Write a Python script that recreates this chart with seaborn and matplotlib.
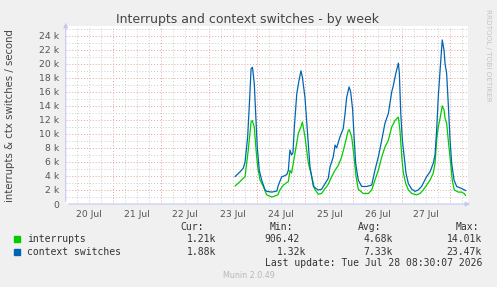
import matplotlib
matplotlib.use("Agg")
import matplotlib.pyplot as plt
from matplotlib.patches import Rectangle
from matplotlib.ticker import MultipleLocator, FuncFormatter, NullFormatter
import seaborn as sns

# Jours affichés sous l'axe X (étiquettes à midi)
days = ["20 Jul", "21 Jul", "22 Jul", "23 Jul", "24 Jul", "25 Jul", "26 Jul", "27 Jul"]

# Heures depuis le 20 Jul 00:00, valeurs en milliers par seconde
t_int = [84.9, 87.4, 89.9, 91.5, 92.9, 93.5, 94.5, 95.4, 96.2, 97.4, 99.0, 100.7,
         103.3, 106.3, 107.3, 109.0, 111.5, 112.3, 113.1, 114.8, 116.5, 117.8,
         118.5, 119.8, 121.5, 123.2, 124.5, 126.4, 128.1, 129.8, 131.4, 133.1,
         134.8, 136.4, 138.1, 139.8, 141.4, 141.9, 143.1, 144.3, 145.3, 146.4,
         148.9, 151.4, 153.1, 154.7, 156.4, 158.1, 159.7, 161.4, 163.1, 164.7,
         166.4, 167.2, 168.1, 168.9, 170.1, 171.4, 173.1, 175.5, 177.2, 178.8,
         180.5, 182.2, 183.8, 184.7, 185.5, 186.3, 187.2, 188.3, 189.2, 189.7,
         190.5, 191.3, 192.5, 193.3, 194.3, 196.3, 198.0, 199.2, 200.0]
interrupts = [2.56, 3.2, 3.9, 7.7, 11.7, 11.9, 11.0, 7.7, 5.3, 3.4, 2.5, 1.3,
              1.0, 1.3, 2.0, 2.7, 3.2, 4.8, 4.4, 7.2, 10.1, 11.0,
              11.7, 9.6, 5.8, 3.9, 2.2, 1.4, 1.5, 2.2, 2.8, 3.9,
              4.8, 5.5, 6.7, 8.6, 10.5, 10.6, 9.6, 6.7, 3.9, 2.1,
              1.5, 1.5, 2.0, 3.4, 4.8, 6.7, 8.1, 9.1, 11.0, 11.9,
              12.4, 10.5, 6.7, 4.4, 2.9, 2.0, 1.5, 1.3, 1.5, 2.0,
              2.7, 3.4, 4.4, 5.8, 9.1, 11.0, 12.2, 14.0, 13.4, 12.2,
              11.5, 9.1, 5.8, 3.4, 2.0, 1.7, 1.7, 1.5, 1.2]

t_ctx = [84.9, 87.4, 89.0, 89.9, 91.2, 92.1, 92.9, 93.6, 94.5, 95.2, 96.0, 97.0,
         98.2, 99.9, 100.8, 103.3, 105.8, 106.3, 108.2, 109.0, 110.7, 111.5,
         112.3, 113.1, 113.8, 114.5, 115.7, 116.8, 117.8, 118.5, 119.8, 121.2,
         122.3, 124.0, 126.4, 128.1, 129.8, 131.4, 132.3, 133.9, 134.8, 135.6,
         137.3, 138.9, 139.8, 140.6, 141.8, 142.6, 143.6, 144.4, 145.1, 146.4,
         148.1, 150.6, 153.1, 154.7, 156.4, 158.1, 159.7, 161.4, 163.1, 163.9,
         165.1, 166.4, 166.9, 167.6, 168.4, 169.4, 170.2, 171.4, 173.1, 174.7,
         176.3, 178.0, 180.5, 182.2, 183.8, 184.7, 185.5, 186.3, 187.2, 188.3,
         189.2, 189.7, 190.5, 191.3, 192.2, 193.0, 194.2, 195.5, 197.2, 198.8, 200.0]
context_switches = [3.9, 4.6, 5.1, 6.0, 9.6, 14.5, 19.3, 19.5, 17.2, 12.9, 8.1, 4.8,
                    3.4, 2.0, 1.8, 1.7, 1.85, 2.5, 3.9, 3.95, 4.2, 4.8,
                    7.7, 7.0, 7.3, 11.0, 15.7, 17.6, 19.0, 18.1, 15.2, 9.6,
                    5.3, 2.5, 2.0, 2.1, 2.9, 3.65, 5.3, 6.7, 8.4, 8.0,
                    9.6, 10.75, 12.9, 15.2, 16.7, 16.0, 13.4, 9.1, 5.8, 3.4,
                    2.5, 2.5, 2.7, 4.8, 6.7, 9.1, 11.5, 12.9, 16.0, 16.9,
                    18.6, 20.1, 18.6, 12.9, 9.1, 6.5, 4.4, 2.9, 2.1, 1.8,
                    2.0, 2.5, 3.9, 4.6, 5.8, 7.0, 10.5, 15.2, 19.0, 23.4,
                    21.9, 20.0, 18.6, 14.3, 9.1, 5.8, 3.4, 2.5, 2.3, 2.1, 1.9]

# Légende façon Munin
series_names = ["interrupts", "context switches"]
series_colors = ["#00CC00", "#0066B3"]
cur_vals = ["1.21k", "1.88k"]
min_vals = ["906.42", "1.32k"]
avg_vals = ["4.68k", "7.33k"]
max_vals = ["14.01k", "23.47k"]

W, H = 497, 287
sns.set_theme(style="white")
plt.rcParams["font.family"] = ["DejaVu Sans"]

fig = plt.figure(figsize=(W / 100, H / 100), dpi=100, facecolor="#F0F0F0")
ax = fig.add_axes([65.7 / W, 1 - 204 / H, 402.6 / W, 178.5 / H])
ax.set_facecolor("white")

sns.lineplot(x=t_int, y=interrupts, ax=ax, color=series_colors[0], lw=0.9, zorder=3)
sns.lineplot(x=t_ctx, y=context_switches, ax=ax, color=series_colors[1], lw=0.9, zorder=4)

ax.set_xlim(0.4, 201.3)
ax.set_ylim(0, 25.46)

# Grilles : rouge pointillé (majeure), gris pointillé (mineure)
ax.xaxis.set_major_locator(MultipleLocator(24))
ax.xaxis.set_minor_locator(MultipleLocator(6))
ax.yaxis.set_major_locator(MultipleLocator(2))
ax.yaxis.set_minor_locator(MultipleLocator(1))
ax.grid(which="minor", color="#CCCCCC", lw=0.7, linestyle=(0, (1, 2)), zorder=1)
ax.grid(which="major", color="#E8A0A0", lw=0.7, linestyle=(0, (1, 2)), zorder=2)
ax.set_axisbelow(True)

ax.xaxis.set_major_formatter(NullFormatter())


def day_label(v, pos):
    h = int(round(v))
    if h % 24 == 12 and 0 <= h // 24 < len(days):
        return days[h // 24]
    return ""


ax.xaxis.set_minor_formatter(FuncFormatter(day_label))
ax.yaxis.set_major_formatter(FuncFormatter(lambda v, p: "0" if v == 0 else f"{v:g} k"))

ax.tick_params(axis="both", which="both", direction="out", length=1.5, width=0.6,
               colors="#CCCCCC", labelcolor="#555555", labelsize=6.7)
ax.tick_params(axis="x", which="both", pad=2.5)
ax.tick_params(axis="y", which="major", pad=3)
ax.set_xlabel("")
ax.set_ylabel("")
for s in ax.spines.values():
    s.set_visible(False)

# Axes avec flèches
axis_col = "#C4C8F2"
ax.annotate("", xy=(1.0117, 0), xytext=(0, 0), xycoords="axes fraction",
            arrowprops=dict(arrowstyle="-|>", color=axis_col, lw=0.8, mutation_scale=7),
            annotation_clip=False)
ax.annotate("", xy=(0, 1.031), xytext=(0, 0), xycoords="axes fraction",
            arrowprops=dict(arrowstyle="-|>", color=axis_col, lw=0.8, mutation_scale=7),
            annotation_clip=False)


def fx(px):
    return px / W


def fy(py):
    return 1 - py / H


fig.text(fx(248), fy(19), "Interrupts and context switches - by week",
         ha="center", va="center", fontsize=9, color="#444444")
fig.text(fx(10), fy(116), "interrupts & ctx switches / second", rotation=90,
         ha="center", va="center", fontsize=7.3, color="#444444")
fig.text(fx(488), fy(55), "RRDTOOL / TOBI OETIKER", rotation=270,
         ha="center", va="center", fontsize=5.2, color="#C4C4C4")

mono = {"family": "DejaVu Sans Mono", "fontsize": 7, "color": "#333333", "va": "center"}
for txt, xr in zip(["Cur:", "Min:", "Avg:", "Max:"], [204, 292.7, 381, 479]):
    fig.text(fx(xr), fy(226.7), txt, ha="right", **mono)

rows_y = [239.3, 251.7]
for i, name in enumerate(series_names):
    y = rows_y[i]
    fig.patches.append(Rectangle((fx(14), fy(y + 3)), 6 / W, 6 / H,
                                 transform=fig.transFigure, color=series_colors[i]))
    fig.text(fx(26.7), fy(y), name, ha="left", **mono)
    fig.text(fx(216.7), fy(y), cur_vals[i], ha="right", **mono)
    fig.text(fx(299.3 if i == 0 else 306), fy(y), min_vals[i], ha="right", **mono)
    fig.text(fx(393), fy(y), avg_vals[i], ha="right", **mono)
    fig.text(fx(482), fy(y), max_vals[i], ha="right", **mono)

fig.text(fx(482), fy(263.3), "Last update: Tue Jul 28 08:30:07 2026", ha="right", **mono)
fig.text(fx(249), fy(276), "Munin 2.0.49", ha="center", va="center",
         fontsize=5.8, color="#B8B8B8")

fig.savefig("out.png", dpi=100, facecolor=fig.get_facecolor())
